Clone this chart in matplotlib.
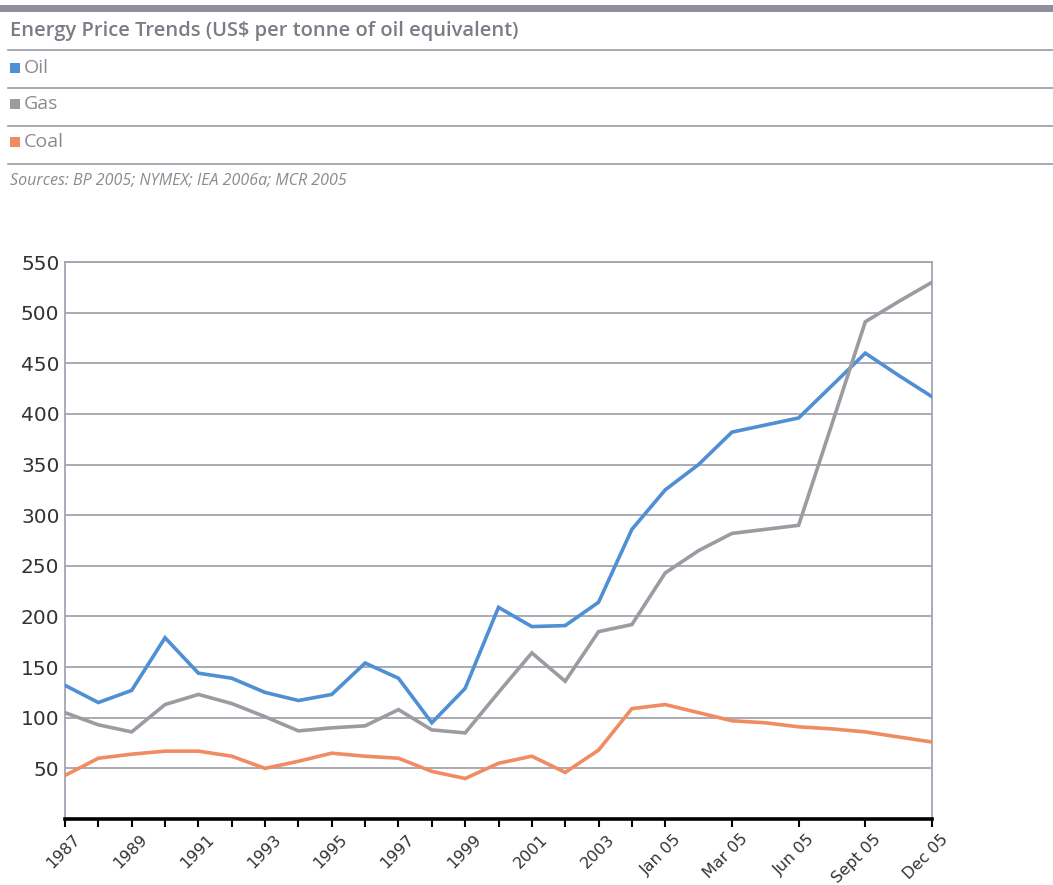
import matplotlib
matplotlib.use("Agg")
import matplotlib.pyplot as plt
import matplotlib.transforms as mtransforms
from matplotlib.lines import Line2D
from matplotlib.patches import Rectangle

# Periods: annual 1987-2004, then points through 2005
categories = [str(y) for y in range(1987, 2005)] + [
    "Jan 05", "Feb 05", "Mar 05", "May 05", "Jun 05",
    "Aug 05", "Sept 05", "Nov 05", "Dec 05",
]

# US$ per tonne of oil equivalent
oil = [132, 115, 127, 179, 144, 139, 125, 117, 123, 154, 139, 95, 129,
       209, 190, 191, 214, 286, 325, 350, 382, 389, 396, 428, 460, 438, 417]
gas = [105, 93, 86, 113, 123, 114, 101, 87, 90, 92, 108, 88, 85,
       125, 164, 136, 185, 192, 243, 265, 282, 286, 290, 390, 491, 511, 530]
coal = [43, 60, 64, 67, 67, 62, 50, 57, 65, 62, 60, 47, 40,
        55, 62, 46, 68, 109, 113, 105, 97, 95, 91, 89, 86, 81, 76]

series = [("Oil", oil, "#4f8fd3"), ("Gas", gas, "#9b9ba2"), ("Coal", coal, "#f08c62")]
y_ticks = [50, 100, 150, 200, 250, 300, 350, 400, 450, 500, 550]

W, H = 1053, 885
fig = plt.figure(figsize=(W / 100, H / 100), dpi=100)

def fx(px):
    return px / W

def fy(py):
    return 1 - py / H

# Header block: bar, title, legend rows and source line
hdr_grey = "#9a9aa6"
fig.add_artist(Rectangle((0, fy(12)), 1, fy(5) - fy(12), transform=fig.transFigure,
                         facecolor="#8e8e9c", edgecolor="none"))
for yy in [50, 88, 126, 164]:
    fig.add_artist(Line2D([fx(8), 1], [fy(yy), fy(yy)], transform=fig.transFigure,
                          color=hdr_grey, lw=1.2))

fig.text(fx(10), fy(31), "Energy Price Trends (US$ per tonne of oil equivalent)",
         fontsize=14.5, color="#7c7c86", fontweight="semibold", family="Open Sans",
         va="center", ha="left")

row_y = [68, 104, 142]
for (name, _, col), yy in zip(series, row_y):
    fig.add_artist(Rectangle((fx(10), fy(yy + 5)), fx(10), fy(yy - 5) - fy(yy + 5),
                             transform=fig.transFigure, facecolor=col, edgecolor="none"))
    fig.text(fx(24), fy(yy), name, fontsize=14, color="#8a8a90", family="Open Sans",
             va="center", ha="left")

fig.text(fx(10), fy(181), "Sources: BP 2005; NYMEX; IEA 2006a; MCR 2005",
         fontsize=11.5, color="#8a8a90", style="italic", family="Open Sans",
         va="center", ha="left")

# Chart area
ax = fig.add_axes([fx(65), fy(819), fx(932) - fx(65), fy(262) - fy(819)])
x = list(range(len(categories)))
for name, vals, col in series:
    ax.plot(x, vals, color=col, lw=2.6, solid_joinstyle="miter", zorder=3)

ax.set_xlim(0, len(categories) - 1)
ax.set_ylim(0, 550)
ax.set_yticks(y_ticks)
ax.set_yticklabels([str(v) for v in y_ticks], fontsize=14.5, color="#333333")
ax.yaxis.grid(True, color="#a4a4ae", lw=1.3)
ax.set_axisbelow(True)
ax.tick_params(axis="y", length=0, pad=4)

major = [i for i in x if i % 2 == 0]
minor = [i for i in x if i % 2 == 1 and i < 18]
ax.set_xticks(major)
ax.set_xticks(minor, minor=True)
ax.set_xticklabels([categories[i] for i in major], rotation=45, ha="right",
                   rotation_mode="anchor", fontsize=11.5, color="#333333")
ax.tick_params(axis="x", which="both", length=6, width=1.5, color="black",
               direction="out", pad=3)
shift = mtransforms.ScaledTranslation(8 / 100, 0, fig.dpi_scale_trans)
for lab in ax.get_xticklabels():
    lab.set_transform(lab.get_transform() + shift)

ax.spines["bottom"].set_color("black")
ax.spines["bottom"].set_linewidth(2.6)
ax.spines["left"].set_color("#a4a4b4")
ax.spines["left"].set_linewidth(1.3)
ax.spines["right"].set_color("#a4a4b4")
ax.spines["right"].set_linewidth(1.3)
ax.spines["top"].set_color("#a4a4ae")
ax.spines["top"].set_linewidth(1.3)

fig.savefig("out.png", dpi=100, facecolor="white")
